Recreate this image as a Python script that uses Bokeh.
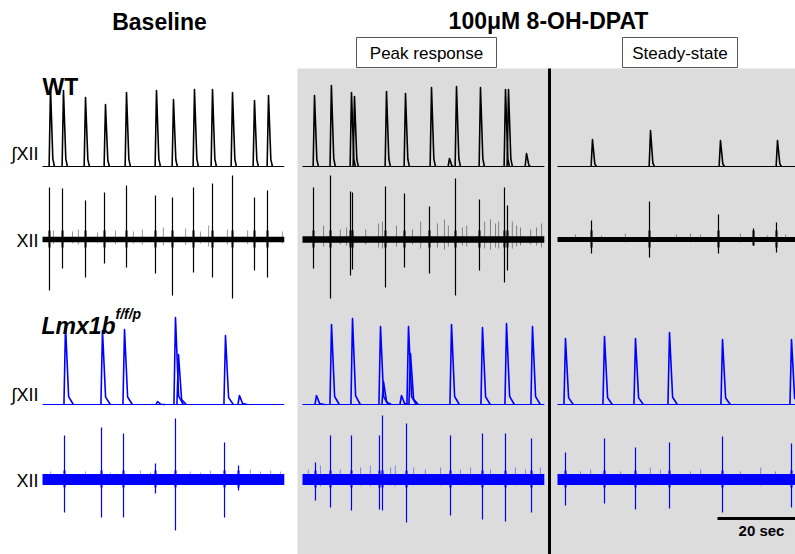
from bokeh.plotting import figure
from bokeh.models import Range1d, Label
from bokeh.embed import file_html
from bokeh.resources import INLINE

# ---------------- data (times in s within each panel, amplitudes in a.u.) ----------------
PX_PER_S = 3.9
panels = ["Baseline", "Peak response", "Steady-state"]
panel_x0 = [42, 302, 557]
panel_dur = [62.0, 62.0, 61.0]

# WT integrated XII: peak times and heights
wt_int_t = [
    [2.05, 5.38, 11.03, 16.15, 21.54, 29.23, 33.59, 38.97, 43.59, 48.72, 54.36, 57.95],
    [3.08, 7.41, 12.56, 13.33, 21.54, 26.41, 33.08, 37.69, 39.49, 45.64, 52.05, 52.82, 57.44],
    [8.97, 23.85, 41.79, 56.41],
]
wt_int_h = [
    [79, 76, 69, 62, 74, 76, 67, 77, 77, 74, 66, 71],
    [71, 81, 74, 70, 75, 73, 79, 8, 80, 79, 77, 77, 13],
    [27, 36, 26, 26],
]

# WT raw XII: burst times, upward and downward excursion
wt_raw_t = [
    [1.79, 5.13, 11.03, 15.90, 21.54, 28.97, 33.33, 38.72, 43.59, 48.72, 54.36, 57.69],
    [2.82, 7.18, 12.31, 12.82, 21.28, 26.15, 32.56, 39.23, 45.38, 51.79, 52.56],
    [8.72, 23.59, 41.28, 50.26, 56.15],
]
wt_raw_up = [
    [52, 51, 39, 47, 54, 44, 42, 52, 56, 64, 42, 49],
    [52, 64, 48, 47, 53, 46, 33, 61, 40, 52, 34],
    [19, 38, 25, 11, 17],
]
wt_raw_dn = [
    [51, 29, 38, 24, 28, 34, 56, 33, 38, 59, 31, 38],
    [29, 59, 36, 30, 48, 28, 34, 56, 31, 43, 31],
    [14, 18, 14, 6, 13],
]
wt_minor_t = [
    [2.8, 7.7, 9.2, 14.1, 18.7, 23.3, 25.6, 31.0, 36.7, 40.5, 42.6, 47.4, 52.6, 61.5],
    [5.4, 9.7, 11.3, 16.2, 19.5, 20.5, 24.1, 28.2, 30.3, 34.6, 36.4, 37.4, 41.0, 42.1,
     46.7, 48.2, 49.5, 50.3, 53.8, 54.9, 55.9, 58.5, 60.0, 61.3],
    [4.6, 11.3, 17.4, 30.5, 34.1, 36.7, 46.9, 53.8, 58.5],
]
wt_minor_up = [
    [9, 8, 10, 7, 9, 8, 10, 12, 11, 8, 14, 10, 9, 8],
    [14, 10, 12, 10, 16, 18, 14, 10, 18, 16, 20, 14, 12, 14, 18, 20, 16, 18, 18, 14, 12, 10, 12, 16],
    [5, 4, 6, 5, 6, 5, 6, 4, 5],
]
wt_noise = [2.8, 3.2, 2.4]

# Lmx1b integrated XII
lmx_int_t = [
    [5.90, 15.38, 21.03, 29.49, 34.10, 34.87, 46.92, 50.51],
    [3.59, 7.44, 12.82, 20.00, 20.77, 25.38, 27.18, 27.69, 38.21, 46.15, 52.31, 58.97],
    [2.05, 12.05, 20.00, 28.72, 42.31, 60.00],
]
lmx_int_h = [
    [79, 74, 75, 3, 87, 50, 69, 9],
    [9, 80, 86, 78, 23, 9, 78, 51, 80, 77, 81, 78],
    [66, 68, 66, 72, 65, 65],
]

# Lmx1b raw XII
lmx_raw_t = [
    [5.64, 15.13, 20.77, 28.97, 34.10, 46.67, 50.26],
    [3.33, 7.18, 12.56, 19.74, 20.51, 26.67, 37.95, 46.15, 52.05, 58.72],
    [2.05, 12.05, 20.00, 28.72, 42.31, 60.00],
]
lmx_raw_up = [
    [44, 52, 46, 16, 61, 37, 14],
    [17, 44, 44, 44, 64, 56, 44, 46, 46, 41],
    [27, 41, 32, 37, 43, 36],
]
lmx_raw_dn = [
    [33, 38, 38, 14, 51, 38, 11],
    [21, 28, 31, 30, 31, 43, 36, 40, 42, 33],
    [26, 24, 30, 29, 33, 28],
]
lmx_minor_t = [
    [2.1, 11.0, 17.4, 25.1, 27.7, 37.9, 40.5, 43.1, 53.3, 55.9, 58.5, 61.0],
    [1.5, 4.6, 9.7, 14.9, 17.4, 22.6, 23.8, 28.5, 31.5, 35.4, 40.5, 43.1, 48.2, 54.6, 57.2, 61.0],
    [5.9, 8.5, 16.2, 23.8, 26.4, 34.1, 36.7, 46.9, 52.1, 55.9],
]
lmx_minor_up = [
    [8, 8, 7, 9, 7, 8, 7, 9, 10, 8, 9, 8],
    [10, 14, 10, 12, 14, 12, 14, 12, 10, 12, 10, 12, 10, 12, 10, 12],
    [8, 10, 8, 12, 10, 8, 10, 8, 12, 8],
]
lmx_noise = [5.5, 5.5, 5.5]

scale_bar_s = 20

# ---------------- layout ----------------
FONT = "Liberation Sans"
BLACK = "#000000"
BLUE = "#0000ff"
GREY = "#dcdcdc"

row_base = {"wt_int": 166, "wt_raw": 239, "lmx_int": 404, "lmx_raw": 479}

p = figure(width=795, height=554, x_range=Range1d(0, 795), y_range=Range1d(554, 0),
           output_backend="svg", toolbar_location=None, min_border=0,
           x_axis_type=None, y_axis_type=None)
p.grid.visible = False
p.outline_line_color = None
p.background_fill_color = "white"
p.border_fill_color = "white"

# grey drug region
p.quad(left=[297], right=[795], top=[68], bottom=[554], fill_color=GREY, line_color=None)
# separator
p.segment(x0=[549], y0=[68], x1=[549], y1=[554], line_color=BLACK, line_width=3)


def tx(panel, t):
    return panel_x0[panel] + t * PX_PER_S


def int_trace(times, heights, base, color, rise, fall, tail, lw):
    for k in range(3):
        x0 = tx(k, 0)
        x1 = tx(k, panel_dur[k])
        p.line([x0, x1], [base, base], line_color=color, line_width=1.2)
        xs, ys = [], []
        for t, h in zip(times[k], heights[k]):
            xc = tx(k, t)
            xs.append([xc - rise * PX_PER_S, xc, xc + fall * PX_PER_S, xc + tail * PX_PER_S])
            ys.append([base, base - h, base - 0.1 * h, base])
        p.multi_line(xs, ys, line_color=color, line_width=lw, line_join="round")


def raw_trace(times, up, dn, mt, mu, noise, center, color):
    for k in range(3):
        x0 = tx(k, 0)
        x1 = tx(k, panel_dur[k])
        p.quad(left=[x0], right=[x1], top=[center - noise[k]], bottom=[center + noise[k]],
               fill_color=color, line_color=None)
        mx = [tx(k, t) for t in mt[k]]
        p.segment(x0=mx, y0=[center - u for u in mu[k]], x1=mx,
                  y1=[center + 0.5 * u for u in mu[k]], line_color=color, line_width=0.7, line_alpha=0.6)
        bx = [tx(k, t) for t in times[k]]
        p.segment(x0=bx, y0=[center - u for u in up[k]], x1=bx, y1=[center + d for d in dn[k]],
                  line_color=color, line_width=1.2)
        p.segment(x0=bx, y0=[center - min(u, 9) for u in up[k]], x1=bx,
                  y1=[center + min(d, 8) for d in dn[k]], line_color=color, line_width=2)


int_trace(wt_int_t, wt_int_h, row_base["wt_int"], BLACK, 0.35, 0.6, 1.0, 1.6)
raw_trace(wt_raw_t, wt_raw_up, wt_raw_dn, wt_minor_t, wt_minor_up, wt_noise, row_base["wt_raw"], BLACK)
int_trace(lmx_int_t, lmx_int_h, row_base["lmx_int"], BLUE, 0.4, 0.8, 2.0, 1.6)
raw_trace(lmx_raw_t, lmx_raw_up, lmx_raw_dn, lmx_minor_t, lmx_minor_up, lmx_noise, row_base["lmx_raw"], BLUE)

# scale bar
sb_x0 = 717
p.segment(x0=[sb_x0], y0=[518], x1=[sb_x0 + scale_bar_s * PX_PER_S], y1=[518], line_color=BLACK, line_width=3)


def lab(x, y, text, size, style="normal", align="left", baseline="middle", color=BLACK):
    p.add_layout(Label(x=x, y=y, text=text, text_font=FONT, text_font_size=size,
                       text_font_style=style, text_align=align, text_baseline=baseline,
                       text_color=color))


lab(761, 530, f"{scale_bar_s} sec", "15px", "bold", "center")

# titles
lab(159, 21, "Baseline", "23px", "bold", "center")
lab(548, 20, "100\u03bcM 8-OH-DPAT", "23px", "bold", "center")

# panel boxes
p.quad(left=[356, 622], right=[496, 737], top=[37, 37], bottom=[67, 67],
       fill_color="white", line_color="#555555", line_width=1)
lab(426, 53, panels[1], "17px", "normal", "center")
lab(679.5, 53, panels[2], "17px", "normal", "center")

# genotype labels
lab(42, 86, "WT", "23px", "bold", "left", "alphabetic")
lab(41, 325, "Lmx1b", "23px", "bold italic", "left", "alphabetic")
lab(115, 313, "f/f/p", "14px", "bold italic", "left", "alphabetic")

# trace labels
lab(38, 153, "\u222bXII", "18px", "normal", "right")
lab(38, 240, "XII", "18px", "normal", "right")
lab(38, 394, "\u222bXII", "18px", "normal", "right")
lab(38, 480, "XII", "18px", "normal", "right")

open("out.html", "w").write(file_html(p, INLINE))
